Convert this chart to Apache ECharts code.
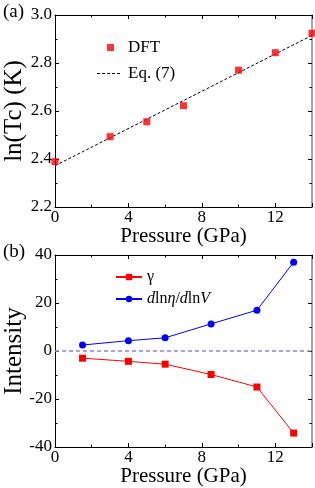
<!DOCTYPE html>
<html><head><meta charset="utf-8">
<script src="https://cdn.jsdelivr.net/npm/echarts@6/dist/echarts.min.js"></script>
<style>html,body{margin:0;padding:0;background:#fff}#c{width:315px;height:488px}</style>
</head><body><div id="c"></div>
<script>
// Panel (a)
const dftX = [0, 3, 5, 7, 10, 12, 14];
const dftY = [2.389, 2.493, 2.555, 2.622, 2.770, 2.843, 2.924];
const eqX = [0, 14];
const eqY = [2.372, 2.915];
// Panel (b)
const bX = [1.5, 4, 6, 8.5, 11, 13];
const gamma = [-3.0, -4.3, -5.5, -9.8, -15.0, -34.2];
const dlnEta = [2.5, 4.3, 5.5, 11.3, 17.0, 37.0];
const zeroLine = 0;

const serif = '"Liberation Serif"';
const tickCommon = {
  axisTick: { inside: true, length: 4, lineStyle: { color: '#000' } },
  minorTick: { show: true, splitNumber: 2, length: 2.5, lineStyle: { color: '#000' } },
  splitLine: { show: false }
};
function xAxis(gi) {
  return Object.assign({
    type: 'value', gridIndex: gi, min: 0, max: 14, interval: 4,
    name: 'Pressure (GPa)', nameLocation: 'middle', nameGap: 19, nameMoveOverlap: false,
    nameTextStyle: { fontFamily: serif, fontSize: 21, color: '#000' },
    axisLine: { onZero: false, lineStyle: { color: '#000', width: 1 } },
    axisLabel: { fontFamily: serif, fontSize: 17, color: '#000', margin: 2, showMaxLabel: false }
  }, tickCommon);
}
function xMirror(gi) {
  return Object.assign({ type: 'value', gridIndex: gi, position: 'top', min: 0, max: 14, interval: 4,
    axisLine: { show: true, onZero: false, lineStyle: { color: '#000' } },
    axisLabel: { show: false } }, tickCommon);
}
function yAxis(gi, min, max, iv, name, fmt) {
  return Object.assign({ type: 'value', gridIndex: gi, min: min, max: max, interval: iv,
    name: name, nameLocation: 'middle', nameGap: 28, nameMoveOverlap: false,
    nameTextStyle: { fontFamily: serif, fontSize: 25, color: '#000' },
    axisLine: { onZero: false, lineStyle: { color: '#000' } },
    axisLabel: { fontFamily: serif, fontSize: 17, color: '#000', margin: 3, formatter: fmt } }, tickCommon);
}
function yMirror(gi, min, max, iv) {
  return Object.assign({ type: 'value', gridIndex: gi, position: 'right', min: min, max: max, interval: iv,
    axisLine: { show: true, onZero: false, lineStyle: { color: '#888', width: 1.5 } },
    axisLabel: { show: false } }, tickCommon);
}
function render() {
const chart = echarts.init(document.getElementById('c'));
const opt = {
  animation: false,
  textStyle: { fontFamily: serif },
  grid: [
    { left: 55, top: 15, width: 257, height: 192, containLabel: false, outerBoundsMode: 'none' },
    { left: 55, top: 255, width: 257, height: 192, containLabel: false, outerBoundsMode: 'none' }
  ],
  xAxis: [ xAxis(0), xAxis(1), xMirror(0), xMirror(1) ],
  yAxis: [
    yAxis(0, 2.2, 3.0, 0.2, 'ln(Tc) (K)', v => v.toFixed(1)),
    yAxis(1, -40, 40, 20, 'Intensity', v => String(v)),
    yMirror(0, 2.2, 3.0, 0.2),
    yMirror(1, -40, 40, 20)
  ],
  legend: [
    { orient: 'vertical', left: 92, top: 34, itemWidth: 26, itemHeight: 8, itemGap: 9,
      data: [
        { name: 'DFT', icon: 'path://M0,0h0.05v0.05h-0.05z M26,7.95h0.05v0.05h-0.05z M10,0.5h7v7h-7z' },
        { name: 'Eq. (7)', icon: 'path://M0,0h0.05v0.05h-0.05z M26,7.95h0.05v0.05h-0.05z M0,3.5h3v1h-3z M5,3.5h3v1h-3z M10,3.5h3v1h-3z M15,3.5h3v1h-3z M20,3.5h3v1h-3z' }
      ],
      textStyle: { fontFamily: serif, fontSize: 17, color: '#000' } },
    { orient: 'vertical', left: 110, top: 264, itemWidth: 26, itemHeight: 8, itemGap: 6,
      data: ['γ', 'dlnη/dlnV'],
      formatter: function (n) {
        if (n === 'γ') return n;
        return '{i|d}ln{i|η}/{i|d}ln{i|V}';
      },
      textStyle: { fontFamily: serif, fontSize: 16, color: '#000',
        rich: { i: { fontFamily: serif, fontSize: 16, fontStyle: 'italic', color: '#000' } } } }
  ],
  graphic: [
    { type: 'text', left: 3, top: 3, style: { text: '(a)', font: '19px "Liberation Serif"', fill: '#000' } },
    { type: 'text', left: 3, top: 243, style: { text: '(b)', font: '19px "Liberation Serif"', fill: '#000' } }
  ],
  series: [
    { name: 'Eq. (7)', type: 'line', xAxisIndex: 0, yAxisIndex: 0,
      data: eqX.map((x, i) => [x, eqY[i]]), showSymbol: false, symbol: 'none',
      lineStyle: { color: '#000', width: 1, type: [3, 2] }, itemStyle: { color: '#000' }, z: 2 },
    { name: 'DFT', type: 'scatter', xAxisIndex: 0, yAxisIndex: 0,
      data: dftX.map((x, i) => [x, dftY[i]]), symbol: 'rect', symbolSize: 7,
      itemStyle: { color: '#ff0000' }, z: 3 },
    { name: 'γ', type: 'line', xAxisIndex: 1, yAxisIndex: 1,
      data: bX.map((x, i) => [x, gamma[i]]), symbol: 'rect', symbolSize: 7,
      lineStyle: { color: '#ff0000', width: 1 }, itemStyle: { color: '#ff0000' },
      markLine: { silent: true, symbol: 'none', label: { show: false },
        lineStyle: { color: '#9b7fd4', type: [4, 3], width: 1.5 },
        data: [{ yAxis: zeroLine }] } },
    { name: 'dlnη/dlnV', type: 'line', xAxisIndex: 1, yAxisIndex: 1,
      data: bX.map((x, i) => [x, dlnEta[i]]), symbol: 'circle', symbolSize: 7,
      lineStyle: { color: '#0000ff', width: 1 }, itemStyle: { color: '#0000ff' } }
  ]
};
chart.setOption(opt);
}
if (document.fonts && document.fonts.load) {
  Promise.all([
    document.fonts.load('17px "Liberation Serif"'),
    document.fonts.load('italic 16px "Liberation Serif"')
  ]).then(render, render);
} else { render(); }
</script></body></html>
